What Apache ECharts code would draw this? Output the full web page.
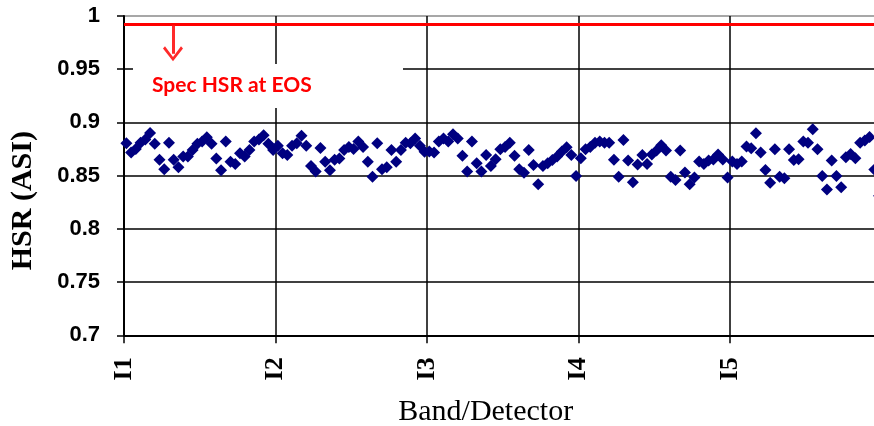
<!DOCTYPE html>
<html><head><meta charset="utf-8">
<script src="https://cdn.jsdelivr.net/npm/echarts@6/dist/echarts.min.js"></script>
<style>html,body{margin:0;padding:0;background:#fff;overflow:hidden}#c{width:874px;height:426px}</style>
</head><body><div id="c"></div>
<script>
const bandLabels = ['I1','I2','I3','I4','I5'];
const detectorsPerBand = 32;
const hsrI1 = [0.8805,0.8717,0.875,0.881,0.884,0.890,0.880,0.865,0.856,0.881,0.865,0.858,0.868,0.868,0.874,0.880,0.882,0.886,0.880,0.866,0.855,0.882,0.863,0.861,0.871,0.868,0.874,0.882,0.884,0.888,0.880,0.874];
const hsrI2 = [0.878,0.871,0.8695,0.878,0.8805,0.8875,0.878,0.859,0.854,0.876,0.863,0.855,0.865,0.866,0.874,0.877,0.875,0.882,0.877,0.863,0.849,0.8805,0.856,0.858,0.874,0.863,0.874,0.881,0.8805,0.885,0.878,0.8725];
const hsrI3 = [0.8726,0.8717,0.882,0.885,0.882,0.889,0.885,0.8686,0.854,0.882,0.8616,0.854,0.8695,0.859,0.8654,0.8748,0.877,0.881,0.8686,0.856,0.8528,0.8742,0.860,0.842,0.859,0.8616,0.8648,0.868,0.8726,0.8767,0.8695,0.8497];
const hsrI4 = [0.8664,0.8748,0.877,0.881,0.882,0.881,0.881,0.865,0.849,0.8836,0.8642,0.8437,0.8604,0.8695,0.861,0.8698,0.8736,0.8786,0.8736,0.849,0.8459,0.8736,0.8529,0.842,0.8483,0.8632,0.861,0.8642,0.8652,0.8698,0.8652,0.8483];
const hsrI5 = [0.8632,0.861,0.8632,0.8774,0.8758,0.8899,0.8717,0.8553,0.8434,0.8748,0.849,0.8475,0.8748,0.8648,0.8654,0.882,0.881,0.8937,0.8748,0.8497,0.8371,0.8642,0.8497,0.839,0.8673,0.8704,0.8664,0.881,0.883,0.8862,0.8557,0.831];
const specHSR = 0.9925;
const specLabel = 'Spec HSR at EOS';
const arrowX = 10.35, arrowFrom = 0.991, arrowTo = 0.9645;

const bands = [hsrI1, hsrI2, hsrI3, hsrI4, hsrI5];
const points = [];
bands.forEach((vals, b) => vals.forEach((v, k) => points.push([b * detectorsPerBand + k + 0.5, v])));

const chart = echarts.init(document.getElementById('c'), null, {renderer: 'canvas'});
chart.setOption({
  animation: false,
  backgroundColor: '#fff',
  grid: {left: 124, right: -7.4, top: 16, bottom: 90.7, containLabel: false, outerBoundsMode: 'none'},
  xAxis: {
    type: 'value', min: 0, max: 160, interval: 32,
    name: 'Band/Detector', nameLocation: 'middle', nameGap: 62,
    nameTextStyle: {fontFamily: 'Liberation Serif', fontSize: 30, color: '#000', padding: [0, 34, 0, 0]},
    axisLine: {show: true, lineStyle: {color: '#000', width: 2}},
    axisTick: {show: true, length: 8, lineStyle: {color: '#000', width: 1.5}},
    axisLabel: {
      rotate: 90, margin: 22, fontFamily: 'Liberation Serif', fontWeight: 'bold', fontSize: 26, color: '#000',
      formatter: v => { const i = Math.round(v / detectorsPerBand); return (v % detectorsPerBand === 0 && i < bandLabels.length) ? bandLabels[i] : ''; }
    },
    splitLine: {show: true, lineStyle: {color: '#000', width: 1.5}}
  },
  yAxis: {
    type: 'value', min: 0.7, max: 1.0, interval: 0.05,
    name: 'HSR (ASI)', nameLocation: 'middle', nameGap: 86,
    nameTextStyle: {fontFamily: 'Liberation Serif', fontWeight: 'bold', fontSize: 30, color: '#000', padding: [0, 50, 0, 0]},
    axisLine: {show: true, lineStyle: {color: '#000', width: 2}},
    axisTick: {show: true, length: 7, lineStyle: {color: '#000', width: 1.5}},
    axisLabel: {margin: 24, fontFamily: 'Liberation Sans', fontWeight: 'bold', fontSize: 22, color: '#000',
      formatter: v => String(parseFloat(v.toFixed(2)))},
    splitLine: {show: true, lineStyle: {color: ['#000','#000','#000','#000','#000','#000','#8a8a8a'], width: 1.5}}
  },
  series: [{
    type: 'scatter',
    symbol: 'diamond', symbolSize: 12,
    itemStyle: {color: '#000080', opacity: 1},
    data: points,
    z: 3,
    markLine: {
      silent: true, animation: false,
      label: {show: false},
      data: [
        [{coord: [0, specHSR], symbol: 'none'}, {coord: [160, specHSR], symbol: 'none'}],
        [{coord: [arrowX, arrowFrom], symbol: 'none', lineStyle: {width: 3, color: '#ff2a2a', type: 'solid'}},
         {coord: [arrowX, arrowTo], symbol: 'path://M0,12 L10,0 L20,12 L18,14 L10,4 L2,14 Z', symbolSize: [20, 15]}]
      ],
      lineStyle: {color: '#ff0000', width: 3, type: 'solid'}
    }
  }],
  graphic: [
    {type: 'rect', z: 10, shape: {x: 133, y: 64, width: 270, height: 44}, style: {fill: '#fff'}},
    {type: 'text', z: 11, x: 152, y: 85, style: {text: specLabel, fill: '#ff0000', font: 'bold 21px Lato', textVerticalAlign: 'middle'}}
  ]
});
</script>
</body></html>
